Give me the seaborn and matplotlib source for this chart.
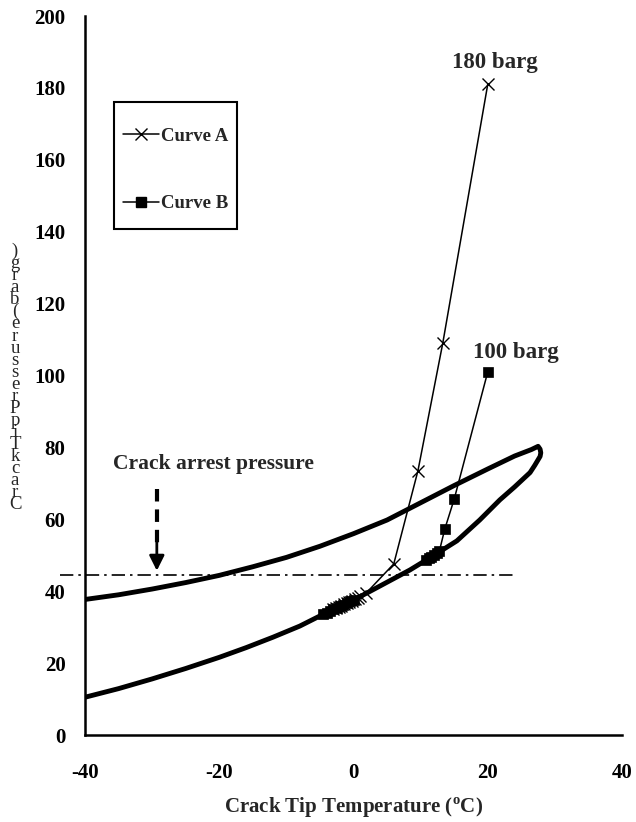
import matplotlib
matplotlib.use("Agg")
import matplotlib.pyplot as plt
import seaborn as sns
import pandas as pd
from matplotlib.lines import Line2D
from matplotlib.patches import Rectangle

# ---------------- data ----------------
loop_T = [-40, -35, -30, -25, -20, -15, -10, -5, 0, 5, 10, 15, 20, 24, 26.5, 27.5, 27.8, 27.9,
          27.8, 27.0, 26.3, 24.0, 21.8, 18.8, 15.4, 12.0, 8.4, 5.0, 2.0, -1.0, -4.7, -8, -12, -16,
          -20, -25, -30, -35, -40]
loop_P = [37.7, 39.0, 40.6, 42.4, 44.4, 46.8, 49.4, 52.5, 56.0, 59.8, 64.6, 69.4, 74.0, 77.6,
          79.4, 80.3, 79.5, 78.5,
          77.5, 75.0, 73.0, 69.0, 65.4, 59.8, 54.0, 50.0, 45.9, 42.5, 39.5, 36.6, 33.4, 30.3,
          27.2, 24.3, 21.6, 18.5, 15.6, 12.9, 10.5]

curveA_T = [-3.0, -2.6, -2.2, -1.8, -1.4, -1.0, -0.6, -0.2, 0.2, 0.6, 1.0, 1.9, 6.0, 9.6, 13.3, 20.0]
curveA_P = [35.0, 35.4, 35.7, 36.0, 36.4, 36.7, 37.1, 37.4, 37.8, 38.2, 38.6, 39.5, 47.6, 73.5, 109.0, 181.0]

curveB_T = [-4.5, -4.0, -3.5, -3.0, -2.5, -2.0, -1.5, -1.0, -0.5, 0.0,
            10.8, 11.2, 11.6, 12.0, 12.4, 12.8, 13.6, 15.0, 20.0]
curveB_P = [33.6, 34.0, 34.5, 35.0, 35.4, 35.9, 36.3, 36.7, 37.2, 37.6,
            48.6, 49.1, 49.5, 50.0, 50.5, 51.2, 57.3, 65.6, 101.0]

arrest_P = 44.5
arrest_T_range = [-43.7, 24.0]
arrow_T = -29.3
x_ticks = [-40, -20, 0, 20, 40]
y_ticks = [0, 20, 40, 60, 80, 100, 120, 140, 160, 180, 200]
series_labels = ["Curve A", "Curve B"]
ylabel_text = "Crack Tip Pressure (barg)"

# ---------------- style ----------------
sns.set_style("white")
plt.rcParams["font.family"] = ["Liberation Serif", "DejaVu Serif"]
plt.rcParams["font.weight"] = "bold"

fig = plt.figure(figsize=(6.36, 8.22), dpi=100)
ax = fig.add_axes([85/636, 1-735/822, (622-85)/636, (735-16)/822])

loop_df = pd.DataFrame({"T": loop_T, "P": loop_P})
a_df = pd.DataFrame({"T": curveA_T, "P": curveA_P})
b_df = pd.DataFrame({"T": curveB_T, "P": curveB_P})

sns.lineplot(data=loop_df, x="T", y="P", sort=False, estimator=None, ax=ax,
             color="black", lw=3.5, solid_capstyle="round", solid_joinstyle="round")
sns.lineplot(data=a_df, x="T", y="P", sort=False, estimator=None, ax=ax,
             color="black", lw=1.1, marker="x", markersize=9, mew=1.0, mec="black")
sns.lineplot(data=b_df, x="T", y="P", sort=False, estimator=None, ax=ax,
             color="black", lw=1.1, marker="s", markersize=7, mew=0.5, mec="black", mfc="black")

# crack arrest line
ax.plot(arrest_T_range, [arrest_P, arrest_P], color="black", lw=1.2,
        ls=(0, (8, 3, 1.5, 3)), clip_on=False)
ax.plot([arrow_T, arrow_T], [68.3, 53.0], color="black", lw=3.0, ls=(0, (3.0, 1.9)))
ax.annotate("", xy=(arrow_T, arrest_P + 1.2), xytext=(arrow_T, 53.5),
            arrowprops=dict(arrowstyle="-|>,head_length=0.9,head_width=0.45",
                            color="black", lw=2.0, shrinkA=0, shrinkB=0))
ax.text(-35.8, 75.5, "Crack arrest pressure", ha="left", va="center",
        fontsize=15.5, fontweight="bold")
ax.text(21.0, 187.0, "180 barg", ha="center", va="center", fontsize=16.5, fontweight="bold")
ax.text(24.2, 106.5, "100 barg", ha="center", va="center", fontsize=16.5, fontweight="bold")

ax.set_xlim(-40, 40)
ax.set_ylim(0, 200)
ax.set_xticks(x_ticks)
ax.set_yticks(y_ticks)
ax.set_xticklabels([str(v) for v in x_ticks])
ax.set_yticklabels([str(v) for v in y_ticks])
ax.tick_params(axis="both", direction="out", length=6, width=1.5, labelsize=15,
               color="black", labelcolor="black")
ax.tick_params(axis="x", pad=14)
ax.tick_params(axis="y", pad=8)
for lab in ax.get_xticklabels() + ax.get_yticklabels():
    lab.set_fontweight("bold")
for s in ["top", "right"]:
    ax.spines[s].set_visible(False)
for s in ["left", "bottom"]:
    ax.spines[s].set_color("black")
    ax.spines[s].set_linewidth(1.8)

ax.set_xlabel("Crack Tip Temperature ($^{\\mathregular{o}}$C)", fontsize=15,
              fontweight="bold", labelpad=9)
ax.set_ylabel("")

# stacked y-label (characters upright, bottom to top)
chars = [c for c in ylabel_text if c != " "]
fig.text(15/636, 1-378/822, "\n".join(reversed(chars)), ha="center", va="center",
         fontsize=13.5, fontweight="normal", linespacing=0.62, multialignment="center")

# legend
handles = [Line2D([], [], color="black", lw=1.1, marker="x", markersize=9, mew=1.0),
           Line2D([], [], color="black", lw=1.1, marker="s", markersize=7, mfc="black")]
leg = ax.legend(handles, series_labels, loc="center",
                bbox_to_anchor=((114+237)/2/636, 1-170/822), bbox_transform=fig.transFigure,
                frameon=False, prop=dict(weight="bold", size=13.5),
                handlelength=1.9, handletextpad=0.1, labelspacing=2.7)
fig.patches.append(Rectangle((114/636, 1-229/822), (237-114)/636, (229-102)/822,
                             transform=fig.transFigure, fill=False, edgecolor="black", lw=1.5))

fig.savefig("out.png", dpi=100, facecolor="white")
